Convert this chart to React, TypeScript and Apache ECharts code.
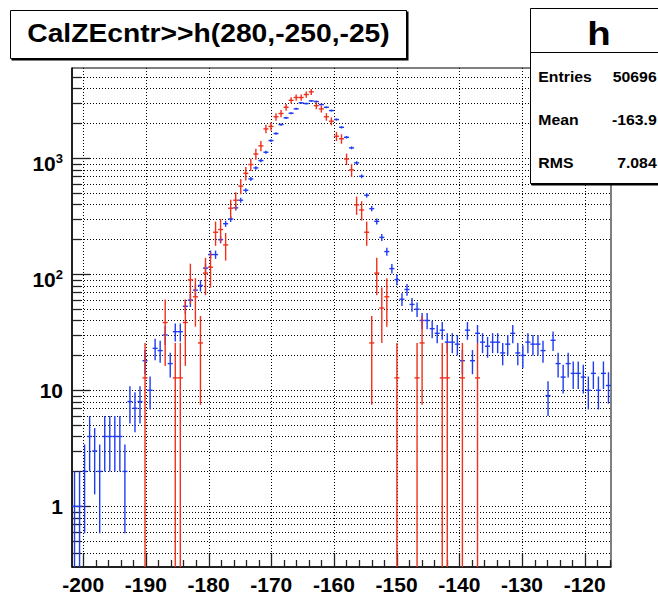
import React, { useEffect, useRef } from "react";
import * as echarts from "echarts";

// Histogram definition: h(280,-250,-25)
const HIST_MIN = -250;
const HIST_MAX = -25;
const N_BINS = 280;
const BIN_W = (HIST_MAX - HIST_MIN) / N_BINS;
const FIRST_BIN = 60; // first visible bin
const LAST_BIN = 167; // upper edge of visible range (bin index)
const X_MIN = HIST_MIN + FIRST_BIN * BIN_W;
const X_MAX = HIST_MIN + LAST_BIN * BIN_W;
const Y_MIN = 0.3;
const Y_MAX = 6000;

// blue histogram (h) contents, bins 60..166
const blueCounts = [
  1, 1, 2, 4, 3, 2, 4, 4, 4, 4,
  2, 8, 7, 8, 18, 10, 23, 22, 30, 17,
  32, 32, 53, 60, 73, 80, 113, 148, 148, 199,
  273, 300, 374, 435, 530, 664, 826, 955, 1127, 1421,
  1634, 1953, 2230, 2445, 2668, 3005, 2963, 3124, 3083, 2904,
  2750, 2578, 2157, 1849, 1517, 1230, 913, 700, 480, 368,
  286, 208, 157, 112, 90, 61, 74, 55, 50, 40,
  40, 34, 31, 33, 26, 26, 25, 18, 33, 18,
  31, 26, 24, 26, 26, 21, 25, 31, 21, 20,
  26, 25, 25, 22, 9, 27, 17, 13, 17, 14,
  14, 13, 10, 14, 10, 14, 11,
];

// red (weighted) histogram: entries per bin, bins 60..166
const redCounts = [
  0, 0, 0, 0, 0, 0, 0, 0, 0, 0,
  0, 0, 0, 0, 1, 0, 0, 0, 3, 0,
  1, 1, 3, 7, 5, 2, 8, 9, 18, 19,
  14, 29, 34, 45, 58, 69, 85, 100, 140, 147,
  178, 190, 215, 247, 261, 261, 277, 292, 222, 208,
  178, 163, 121, 115, 77, 62, 31, 28, 18, 2,
  8, 4, 5, 0, 1, 0, 0, 0, 1, 2,
  0, 0, 0, 1, 1, 0, 0, 1, 0, 0,
  1, 0, 0, 0, 0, 0, 0, 0, 0, 0,
  0, 0, 0, 0, 0, 0, 0, 0, 0, 0,
  0, 0, 0, 0, 0, 0, 0,
];
const RED_WEIGHT = 12.8;

const xMajorTicks = [-200, -190, -180, -170, -160, -150, -140, -130, -120];
const xMinorStep = 2;
const yDecades = [1, 10, 100, 1000];
const yDecadeBase = ["1", "10", "10", "10"];
const yDecadeExp = ["", "", "2", "3"];

const titleText = "CalZEcntr>>h(280,-250,-25)";
const statsName = "h";
const statsLabels = ["Entries", "Mean", "RMS"];
const statsValues = ["50696", "-163.9", "7.084"];

const FONT = '"Liberation Sans", Arial, Helvetica, sans-serif';
const BLUE = "#1f3cf2";
const RED = "#f0301c";

function binCenter(i: number) {
  return HIST_MIN + (FIRST_BIN + i + 0.5) * BIN_W;
}

function errorBarRender(color: string) {
  return (params: any, api: any) => {
    const cs = params.coordSys;
    const xc = api.value(0);
    const v = api.value(1);
    const e = api.value(2);
    const bottom = cs.y + cs.height;
    const yc = api.coord([xc, v])[1];
    const xl = api.coord([xc - BIN_W / 2, v])[0];
    const xr = api.coord([xc + BIN_W / 2, v])[0];
    const xm = api.coord([xc, v])[0];
    const yTop = api.coord([xc, v + e])[1];
    const lo = v - e;
    const yLo = lo > Y_MIN ? api.coord([xc, lo])[1] : bottom;
    return {
      type: "group",
      children: [
        { type: "line", shape: { x1: xl, y1: yc, x2: xr, y2: yc }, style: { stroke: color, lineWidth: 1.4 } },
        { type: "line", shape: { x1: xm, y1: yTop, x2: xm, y2: yLo }, style: { stroke: color, lineWidth: 1.4 } },
      ],
    };
  };
}

export default function App() {
  const ref = useRef<HTMLDivElement>(null);

  useEffect(() => {
    if (!ref.current) return;
    const chart = echarts.init(ref.current, undefined, { renderer: "svg" });

    const blueData = blueCounts.map((c, i) => [binCenter(i), c, Math.sqrt(c)]);
    const redData = redCounts
      .map((n, i) => [binCenter(i), n * RED_WEIGHT, Math.sqrt(n) * RED_WEIGHT, n])
      .filter((d) => d[3] > 0);

    const xTickData: number[][] = [];
    for (let t = xMajorTicks[0]; t <= X_MAX + 1e-9; t += xMinorStep) {
      const major = xMajorTicks.indexOf(t) >= 0 ? 1 : 0;
      xTickData.push([t, 1, major]);
    }
    const yTickData: number[][] = [];
    for (let d = -1; d <= 3; d++) {
      for (let m = 1; m <= 9; m++) {
        const v = m * Math.pow(10, d);
        if (v > Y_MIN * 1.0001 && v < Y_MAX * 0.9999) {
          yTickData.push([X_MIN, v, m === 1 ? 1 : 0]);
        }
      }
    }

    const option: any = {
      animation: false,
      backgroundColor: "#ffffff",
      grid: {
        left: 72,
        right: 47,
        top: 68,
        bottom: 28,
        show: true,
        backgroundColor: "#ffffff",
        borderColor: "#000000",
        borderWidth: 1,
      },
      xAxis: {
        type: "value",
        min: X_MIN,
        max: X_MAX,
        splitNumber: 9,
        minInterval: 10,
        maxInterval: 10,
        axisLine: { show: true, onZero: false, lineStyle: { color: "#000", width: 1.5 } },
        axisTick: { show: false },
        splitLine: { show: false },
        axisLabel: {
          interval: 0,
          margin: 7,
          color: "#000",
          fontFamily: FONT,
          fontWeight: "bold",
          fontSize: 21,
          formatter: (v: number) => (xMajorTicks.indexOf(Math.round(v)) >= 0 && Math.abs(v - Math.round(v)) < 1e-6 ? String(Math.round(v)) : ""),
        },
      },
      yAxis: {
        type: "log",
        logBase: 10,
        min: Y_MIN,
        max: Y_MAX,
        axisLine: { show: true, onZero: false, lineStyle: { color: "#000", width: 1.5 } },
        axisTick: { show: false },
        splitLine: { show: false },
        axisLabel: {
          margin: 9,
          color: "#000",
          fontFamily: FONT,
          fontWeight: "bold",
          fontSize: 21,
          formatter: (v: number) => {
            const e = Math.log10(v);
            const r = Math.round(e);
            if (Math.abs(e - r) > 1e-6) return "";
            const idx = yDecades.indexOf(Math.pow(10, r));
            if (idx < 0) return "";
            if (!yDecadeExp[idx]) return yDecadeBase[idx];
            return "{b|" + yDecadeBase[idx] + "}{s|" + yDecadeExp[idx] + "}";
          },
          rich: {
            b: { fontFamily: FONT, fontWeight: "bold", fontSize: 21, lineHeight: 21, verticalAlign: "bottom", color: "#000" },
            s: { fontFamily: FONT, fontWeight: "bold", fontSize: 13, lineHeight: 31, verticalAlign: "middle", color: "#000" },
          },
        },
      },
      series: [
        {
          type: "custom",
          name: "xgrid",
          silent: true,
          z: 1,
          data: xTickData,
          encode: { x: 0, y: 1 },
          renderItem: (params: any, api: any) => {
            const cs = params.coordSys;
            const v = api.value(0);
            const major = api.value(2) === 1;
            const x = Math.round(api.coord([v, 1])[0]) + 0.5;
            const bottom = cs.y + cs.height;
            const children: any[] = [];
            if (major) {
              children.push({ type: "line", shape: { x1: x, y1: cs.y, x2: x, y2: bottom }, style: { stroke: "#000", lineWidth: 1, lineDash: [1, 2] } });
            }
            children.push({ type: "line", shape: { x1: x, y1: bottom, x2: x, y2: bottom - (major ? 14 : 7) }, style: { stroke: "#222", lineWidth: 1.3 } });
            return { type: "group", children };
          },
        },
        {
          type: "custom",
          name: "ygrid",
          silent: true,
          z: 1,
          data: yTickData,
          encode: { x: 0, y: 1 },
          renderItem: (params: any, api: any) => {
            const cs = params.coordSys;
            const v = api.value(1);
            const major = api.value(2) === 1;
            const y = Math.round(api.coord([X_MIN, v])[1]) + 0.5;
            return {
              type: "group",
              children: [
                { type: "line", shape: { x1: cs.x, y1: y, x2: cs.x + cs.width, y2: y }, style: { stroke: "#000", lineWidth: 1, lineDash: [1, 2] } },
                { type: "line", shape: { x1: cs.x, y1: y, x2: cs.x + (major ? 18 : 9), y2: y }, style: { stroke: "#222", lineWidth: 1.3 } },
              ],
            };
          },
        },
        {
          type: "custom",
          name: "h",
          z: 3,
          clip: true,
          data: blueData,
          encode: { x: 0, y: 1 },
          renderItem: errorBarRender(BLUE),
        },
        {
          type: "custom",
          name: "h2",
          z: 4,
          clip: true,
          data: redData,
          encode: { x: 0, y: 1 },
          renderItem: errorBarRender(RED),
        },
      ],
      graphic: {
        elements: [
          { type: "rect", z: 100, shape: { x: 11.5, y: 11.5, width: 397, height: 49 }, style: { fill: "#000" } },
          { type: "rect", z: 101, shape: { x: 10.5, y: 10.5, width: 396, height: 48 }, style: { fill: "#fff", stroke: "#000", lineWidth: 1 } },
          {
            type: "text", z: 102, x: 208.5, y: 34, scaleX: 1.13,
            style: { text: titleText, fontFamily: FONT, fontWeight: "bold", fontSize: 25, fill: "#000", align: "center", verticalAlign: "middle" },
          },
          { type: "rect", z: 100, shape: { x: 531.5, y: 9.5, width: 138, height: 176 }, style: { fill: "#000" } },
          { type: "rect", z: 101, shape: { x: 530.5, y: 8.5, width: 138, height: 175 }, style: { fill: "#fff", stroke: "#000", lineWidth: 1 } },
          { type: "line", z: 102, shape: { x1: 530.5, y1: 52.5, x2: 668, y2: 52.5 }, style: { stroke: "#000", lineWidth: 1 } },
          {
            type: "text", z: 102, x: 599, y: 33, scaleX: 1.13,
            style: { text: statsName, fontFamily: FONT, fontWeight: "bold", fontSize: 34, fill: "#000", align: "center", verticalAlign: "middle" },
          },
          ...statsLabels.map((t, i) => ({
            type: "text", z: 102, x: 538.3, y: 77 + i * 43, scaleX: 1.13,
            style: { text: t, fontFamily: FONT, fontWeight: "bold", fontSize: 14, fill: "#000", align: "left", verticalAlign: "middle" },
          })),
          ...statsValues.map((t, i) => ({
            type: "text", z: 102, x: 656.7, y: 77 + i * 43, scaleX: 1.13,
            style: { text: t, fontFamily: FONT, fontWeight: "bold", fontSize: 14, fill: "#000", align: "right", verticalAlign: "middle" },
          })),
        ],
      },
    };

    chart.setOption(option);
    return () => {
      chart.dispose();
    };
  }, []);

  return (
    <div
      ref={ref}
      style={{ position: "absolute", left: 0, top: 0, width: 658, height: 595, background: "#fff" }}
    />
  );
}
